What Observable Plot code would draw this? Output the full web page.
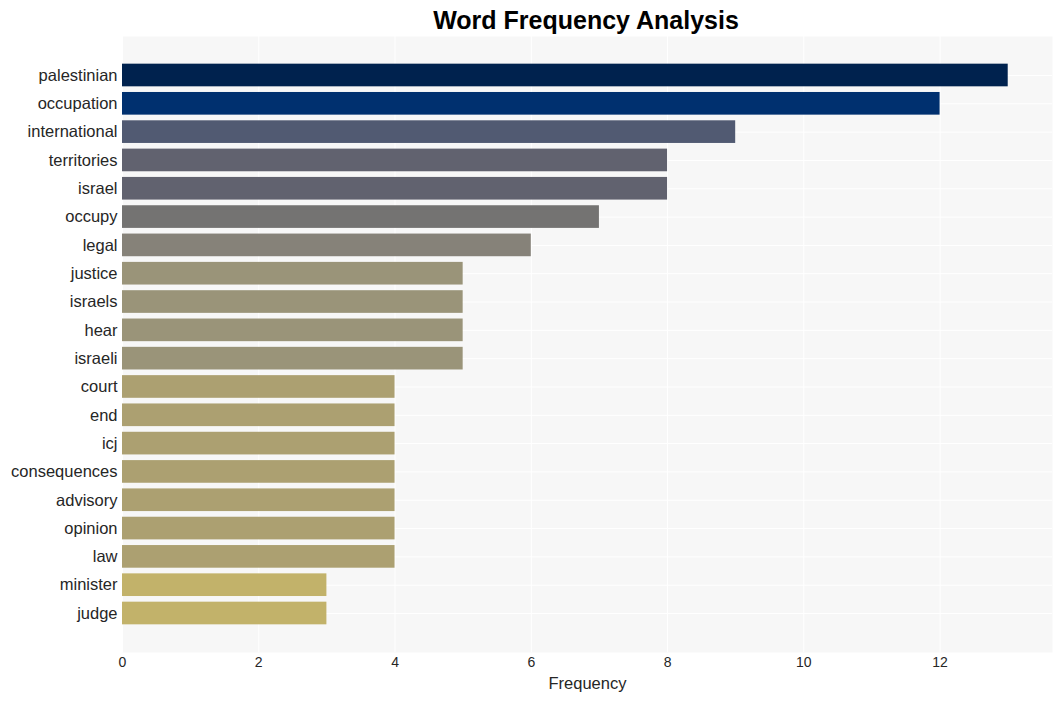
<!DOCTYPE html>
<html>
<head>
<meta charset="utf-8">
<script src="https://cdn.jsdelivr.net/npm/d3@7"></script>
<script src="https://cdn.jsdelivr.net/npm/@observablehq/plot@0.6"></script>
<style>
  body { margin: 0; background: #fff; font-family: "Liberation Sans", Arial, sans-serif; }
  #title { height: 36px; line-height: 40px; text-align: center; font-size: 25px; font-weight: bold; color: #000; width: 1172px; }
  #chart svg { display: block; }
</style>
</head>
<body>
<div id="title">Word Frequency Analysis</div>
<div id="chart"></div>
<script>
const words = ["palestinian","occupation","international","territories","israel","occupy","legal","justice","israels","hear","israeli","court","end","icj","consequences","advisory","opinion","law","minister","judge"];
const counts = [13,12,9,8,8,7,6,5,5,5,5,4,4,4,4,4,4,4,3,3];
const colorDomain = [13,12,9,8,7,6,5,4,3];
const colorRange = ["#00224e","#00306f","#515a72","#61626f","#747372","#868279","#9a9479","#aca071","#c2b26a"];
const xTicks = [0,2,4,6,8,10,12];

const data = words.map((w, i) => ({word: w, count: counts[i]}));

const chart = Plot.plot({
  width: 1061,
  height: 665,
  marginLeft: 122,
  marginRight: 9,
  marginTop: 0,
  marginBottom: 49,
  style: {fontFamily: '"Liberation Sans", Arial, sans-serif', background: "#fff", color: "#262626"},
  x: {domain: [0, 13.65], label: null},
  y: {domain: words, paddingInner: 0.2, paddingOuter: 0.977, round: false, label: null},
  color: {type: "ordinal", domain: colorDomain, range: colorRange},
  marks: [
    Plot.frame({fill: "#f7f7f7", stroke: null}),
    Plot.gridX(xTicks, {stroke: "#fff", strokeOpacity: 1, strokeWidth: 1}),
    Plot.gridY(words, {stroke: "#fff", strokeOpacity: 1, strokeWidth: 1}),
    Plot.barX(data, {x: "count", y: "word", fill: d => d.count}),
    Plot.axisX(xTicks, {tickSize: 0, tickPadding: 5, fontSize: 14, label: null}),
    Plot.axisY({tickSize: 0, tickPadding: 5, fontSize: 16.5, label: null}),
    Plot.text(["Frequency"], {frameAnchor: "bottom", dy: 36, fontSize: 16.5, fill: "#262626"})
  ]
});
document.getElementById("chart").appendChild(chart);
</script>
</body>
</html>
